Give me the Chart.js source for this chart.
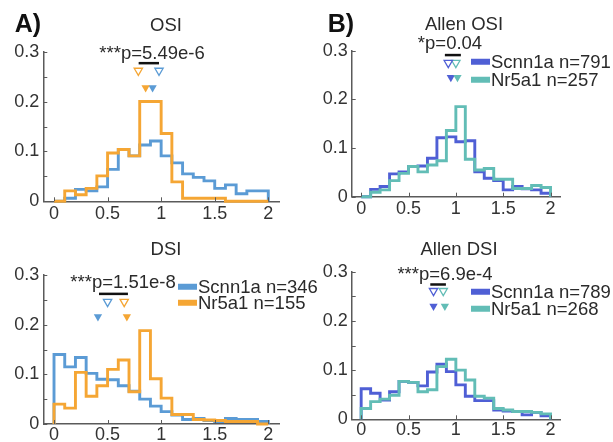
<!DOCTYPE html>
<html>
<head>
<meta charset="utf-8">
<script src="https://cdn.jsdelivr.net/npm/chart.js@4.4.1/dist/chart.umd.min.js"></script>
<style>
  body { margin: 0; background: #fff; }
  #wrap { position: relative; width: 613px; height: 442px; overflow: hidden; font-family: 'Liberation Sans', Arial, Helvetica, sans-serif; }
  canvas { position: absolute; }
  .t { position: absolute; transform: translate(-50%, -50%); white-space: nowrap; line-height: 1; font-size: 18.5px; color: #2a2a2a; }
  .lbl { position: absolute; font-weight: bold; font-size: 25px; line-height: 1; color: #111; transform: translate(-50%, -50%); }
  .leg { position: absolute; white-space: nowrap; font-size: 18.5px; line-height: 1; color: #2a2a2a; transform: translateY(-50%); display: flex; align-items: center; }
  .sw { display: inline-block; width: 19px; height: 6px; margin-right: 1px; }
</style>
</head>
<body>
<div id="wrap">
  <canvas id="cA" width="306" height="222" style="left:0;top:0"></canvas>
  <canvas id="cB" width="307" height="222" style="left:306px;top:0"></canvas>
  <canvas id="cC" width="306" height="220" style="left:0;top:222px"></canvas>
  <canvas id="cD" width="307" height="220" style="left:306px;top:222px"></canvas>

  <div class="lbl" style="left:28px;top:23px">A)</div>
  <div class="lbl" style="left:341px;top:23px">B)</div>
  <div class="t" style="left:166px;top:25px">OSI</div>
  <div class="t" style="left:152px;top:53px">***p=5.49e-6</div>
  <div class="t" style="left:464px;top:24px">Allen OSI</div>
  <div class="t" style="left:450px;top:43px">*p=0.04</div>
  <div class="t" style="left:166px;top:249px">DSI</div>
  <div class="t" style="left:123px;top:282px">***p=1.51e-8</div>
  <div class="t" style="left:459px;top:249px">Allen DSI</div>
  <div class="t" style="left:445px;top:274px">***p=6.9e-4</div>

  <div class="leg" style="left:471px;top:62px"><span class="sw" style="background:#4F5FD5"></span>Scnn1a n=791</div>
  <div class="leg" style="left:471px;top:80px"><span class="sw" style="background:#62BDB6"></span>Nr5a1 n=257</div>
  <div class="leg" style="left:178px;top:287px"><span class="sw" style="background:#5B9BD5"></span>Scnn1a n=346</div>
  <div class="leg" style="left:178px;top:303px"><span class="sw" style="background:#F5A634"></span>Nr5a1 n=155</div>
  <div class="leg" style="left:471px;top:292px"><span class="sw" style="background:#4F5FD5"></span>Scnn1a n=789</div>
  <div class="leg" style="left:471px;top:309px"><span class="sw" style="background:#62BDB6"></span>Nr5a1 n=268</div>
</div>
<script>
// bins of width 0.1 from 0 to 2
const binStart = [0, 0.1, 0.2, 0.3, 0.4, 0.5, 0.6, 0.7, 0.8, 0.9, 1.0, 1.1, 1.2, 1.3, 1.4, 1.5, 1.6, 1.7, 1.8, 1.9];
const binWidth = 0.1;
const xTicks = [0, 0.5, 1, 1.5, 2];
const yTicks = [0, 0.05, 0.1, 0.15, 0.2, 0.25, 0.3];

// A) OSI
const osiScnn1a = [0, 0.006, 0.024, 0.021, 0.029, 0.064, 0.104, 0.091, 0.113, 0.121, 0.091, 0.077, 0.055, 0.048, 0.041, 0.026, 0.033, 0.015, 0.021, 0.021];
const osiNr5a1  = [0, 0.021, 0.013, 0.026, 0.051, 0.097, 0.104, 0.091, 0.2, 0.2, 0.136, 0.039, 0.006, 0.006, 0.006, 0.006, 0, 0, 0, 0];
// A) DSI
const dsiScnn1a = [0.140, 0.115, 0.134, 0.102, 0.090, 0.089, 0.077, 0.066, 0.050, 0.036, 0.025, 0.018, 0.009, 0.011, 0.007, 0.005, 0.011, 0.009, 0.009, 0.005];
const dsiNr5a1  = [0.040, 0.032, 0.104, 0.056, 0.077, 0.110, 0.129, 0.065, 0.188, 0.091, 0.052, 0.019, 0.019, 0.009, 0.008, 0.007, 0.005, 0.005, 0.005, 0];
// B) Allen OSI
const allenOsiScnn1a = [0, 0.015, 0.021, 0.047, 0.051, 0.062, 0.063, 0.079, 0.121, 0.123, 0.113, 0.115, 0.051, 0.038, 0.033, 0.014, 0.021, 0.016, 0.014, 0.007];
const allenOsiNr5a1  = [0, 0.009, 0.014, 0.033, 0.048, 0.062, 0.051, 0.065, 0.074, 0.136, 0.185, 0.077, 0.055, 0.058, 0.036, 0.036, 0.017, 0.017, 0.023, 0.019];
// B) Allen DSI
const allenDsiScnn1a = [0.062, 0.053, 0.039, 0.056, 0.077, 0.075, 0.068, 0.096, 0.112, 0.097, 0.070, 0.047, 0.038, 0.038, 0.019, 0.017, 0.016, 0.009, 0.014, 0.007];
const allenDsiNr5a1  = [0.022, 0.036, 0.041, 0.049, 0.077, 0.075, 0.056, 0.060, 0.107, 0.122, 0.100, 0.080, 0.047, 0.043, 0.022, 0.019, 0.016, 0.016, 0.014, 0.011];

// median (open) and mean (filled) markers, [Scnn1a, Nr5a1]; significance bar ends
const osiOpen = [0.98, 0.787],   osiFilled = [0.92, 0.855],   osiBar = [0.79, 0.98];
const dsiOpen = [0.50, 0.655],   dsiFilled = [0.41, 0.68],    dsiBar = [0.42, 0.69];
const aOsiOpen = [0.92, 1.0],    aOsiFilled = [0.947, 1.017], aOsiBar = [0.884, 1.053];
const aDsiOpen = [0.764, 0.867], aDsiFilled = [0.764, 0.884], aDsiBar = [0.73, 0.895];

const LIGHT_BLUE = '#5B9BD5', ORANGE = '#F5A634', DARK_BLUE = '#4F5FD5', TEAL = '#62BDB6';
const AXIS = '#5a5a5a', FONT = "'Liberation Sans', Arial, Helvetica, sans-serif";

function stepPoints(values) {
  const pts = [{x: binStart[0], y: 0}];
  values.forEach((v, i) => pts.push({x: binStart[i], y: v}));
  const end = binStart[binStart.length - 1] + binWidth;
  pts.push({x: end, y: values[values.length - 1]});
  pts.push({x: end, y: 0});
  return pts;
}

// tick marks drawn on the inside of the axes, matlab style
const innerTicks = {
  id: 'innerTicks',
  afterDraw(chart) {
    const {ctx, chartArea: a, scales: {x, y}} = chart;
    ctx.save();
    ctx.strokeStyle = AXIS;
    ctx.lineWidth = 1;
    x.ticks.forEach(t => {
      const px = Math.round(x.getPixelForValue(t.value)) + 0.5;
      ctx.beginPath(); ctx.moveTo(px, a.bottom); ctx.lineTo(px, a.bottom - 4); ctx.stroke();
    });
    y.ticks.forEach(t => {
      const py = Math.round(y.getPixelForValue(t.value)) + 0.5;
      ctx.beginPath(); ctx.moveTo(a.left, py); ctx.lineTo(a.left + 4, py); ctx.stroke();
    });
    ctx.restore();
  }
};

function makePanel(id, p) {
  const tri = {type: 'scatter', pointStyle: 'triangle', rotation: 180, radius: 4.8, order: 0};
  const datasets = [
    {type: 'line', data: [{x: p.bar[0], y: p.barY}, {x: p.bar[1], y: p.barY}], borderColor: '#111', borderWidth: 2.5, pointRadius: 0, order: 0},
    {...tri, data: [{x: p.open[0], y: p.openY}], borderWidth: 1.3, borderColor: p.c1, backgroundColor: '#fff'},
    {...tri, data: [{x: p.open[1], y: p.openY}], borderWidth: 1.3, borderColor: p.c2, backgroundColor: '#fff'},
    {...tri, data: [{x: p.filled[1], y: p.filledY}], borderWidth: 0, backgroundColor: p.c2},
    {...tri, data: [{x: p.filled[0], y: p.filledY}], borderWidth: 0, backgroundColor: p.c1},
    {type: 'line', label: 'Nr5a1', data: stepPoints(p.s2), stepped: true, borderColor: p.c2, borderWidth: 2.9, pointRadius: 0, fill: false, order: 1},
    {type: 'line', label: 'Scnn1a', data: stepPoints(p.s1), stepped: true, borderColor: p.c1, borderWidth: 2.9, pointRadius: 0, fill: false, order: 2}
  ];
  datasets.forEach(d => d.clip = false);
  new Chart(document.getElementById(id), {
    data: {datasets},
    options: {
      responsive: false,
      animation: false,
      devicePixelRatio: 1,
      layout: {padding: {top: p.padTop, right: p.padRight, left: 0, bottom: 0}},
      plugins: {legend: {display: false}, tooltip: {enabled: false}},
      scales: {
        x: {
          type: 'linear', min: -0.1, max: 2.1,
          afterBuildTicks: s => { s.ticks = xTicks.map(v => ({value: v})); },
          afterFit: s => { s.height = p.xHeight; },
          ticks: {color: '#333', font: {family: FONT, size: 18}, padding: p.xPad, maxRotation: 0,
                  callback: v => String(v)},
          grid: {display: true, drawOnChartArea: false, drawTicks: false},
          border: {display: true, color: AXIS, width: 1.5}
        },
        y: {
          type: 'linear', min: 0, max: 0.3,
          afterBuildTicks: s => { s.ticks = yTicks.map(v => ({value: v})); },
          afterFit: s => { s.width = p.yWidth; },
          ticks: {color: '#333', font: {family: FONT, size: 18}, padding: 4,
                  callback: v => (Math.round(v * 100) % 10 === 0 ? String(Math.round(v * 10) / 10) : '')},
          grid: {display: true, drawOnChartArea: false, drawTicks: false},
          border: {display: true, color: AXIS, width: 1.5}
        }
      }
    },
    plugins: [innerTicks]
  });
}

makePanel('cA', {s1: osiScnn1a, s2: osiNr5a1, c1: LIGHT_BLUE, c2: ORANGE,
  open: osiOpen, filled: osiFilled, bar: osiBar, openY: 0.262, filledY: 0.228, barY: 0.277,
  yWidth: 43.3, xHeight: 20.7, xPad: 2, padTop: 51.7, padRight: 27});
makePanel('cB', {s1: allenOsiScnn1a, s2: allenOsiNr5a1, c1: DARK_BLUE, c2: TEAL,
  open: aOsiOpen, filled: aOsiFilled, bar: aOsiBar, openY: 0.275, filledY: 0.245, barY: 0.291,
  yWidth: 45.7, xHeight: 25.3, xPad: 2, padTop: 50.7, padRight: 53});
makePanel('cC', {s1: dsiScnn1a, s2: dsiNr5a1, c1: LIGHT_BLUE, c2: ORANGE,
  open: dsiOpen, filled: dsiFilled, bar: dsiBar, openY: 0.246, filledY: 0.216, barY: 0.262,
  yWidth: 43.3, xHeight: 18, xPad: 0, padTop: 53, padRight: 27});
makePanel('cD', {s1: allenDsiScnn1a, s2: allenDsiNr5a1, c1: DARK_BLUE, c2: TEAL,
  open: aDsiOpen, filled: aDsiFilled, bar: aDsiBar, openY: 0.261, filledY: 0.230, barY: 0.274,
  yWidth: 45.7, xHeight: 22.7, xPad: 0, padTop: 49.7, padRight: 53});
</script>
</body>
</html>
